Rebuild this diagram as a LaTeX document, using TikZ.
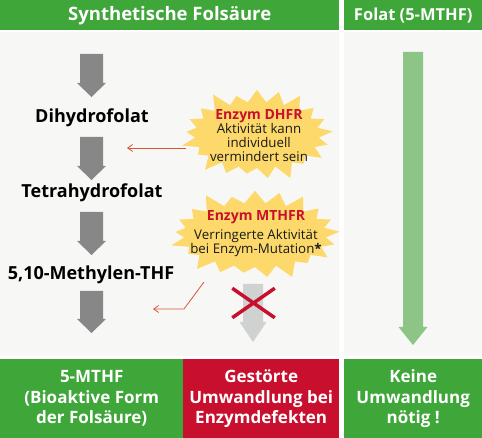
\documentclass[tikz,border=0pt]{standalone}
\usepackage{fontspec}
\setmainfont{Open Sans}
\usepackage{tikz}
\usetikzlibrary{shapes.symbols,shapes.misc,arrows.meta,positioning}

\definecolor{hgreen}{HTML}{3FA63A}
\definecolor{hred}{HTML}{C8102E}
\definecolor{panelbg}{HTML}{F7F8F6}
\definecolor{arrgray}{HTML}{878787}
\definecolor{arrlight}{HTML}{D0D2D2}
\definecolor{arrgreen}{HTML}{8CC585}
\definecolor{staryellow}{HTML}{FCD96A}
\definecolor{linered}{HTML}{D9553A}

% block arrow pointing down: fill, x, top, head start, tip, shaft half, head half
\newcommand{\flowarrow}[7]{%
  \fill[#1] (#2-#6,#3) -- (#2+#6,#3) -- (#2+#6,#4) -- (#2+#7,#4) -- (#2,#5)
    -- (#2-#7,#4) -- (#2-#6,#4) -- cycle;}

\begin{document}
\begin{tikzpicture}[
  x=1pt, y=-1pt,
  every node/.style={font=\fontsize{18}{20.5}\selectfont\bfseries},
  head/.style={fill=hgreen, text=white, inner sep=0pt, anchor=north west,
               minimum height=30pt},
  result/.style={text=white, inner sep=0pt, anchor=north west,
                 minimum height=79pt, align=center,
                 font=\fontsize{17}{20.5}\selectfont\bfseries},
  stage/.style={inner sep=0pt},
  burst/.style={starburst, fill=staryellow, starburst points=21,
                starburst point height=17pt, inner sep=0pt},
  bursttext/.style={inner sep=0pt, align=center, text=black!90,
                    font=\fontsize{13.3}{14}\selectfont},
  redline/.style={draw=linered, line width=0.8pt,
                  -{Straight Barb[length=5pt,width=7pt]}}
]
\useasboundingbox (0,0) rectangle (482,438);

% panels
\fill[panelbg] (0,32) rectangle (339,356);
\fill[panelbg] (344,32) rectangle (482,356);

% headers
\node[head, minimum width=339pt, font=\fontsize{18.5}{20}\selectfont\bfseries]
  (hsyn) at (0,0) {Synthetische Folsäure};
\node[head, minimum width=138pt, font=\fontsize{16.5}{20}\selectfont\bfseries]
  (hfol) at (344,0) {Folat (5-MTHF)};

% synthetic pathway
\flowarrow{arrgray}{91.5}{54}{83}{97}{11.5}{14.5}
\node[stage] (dhf) at (92,118) {Dihydrofolat};
\flowarrow{arrgray}{91.5}{137}{166}{180}{11.5}{14.5}
\node[stage] (thf) at (92,193) {Tetrahydrofolat};
\flowarrow{arrgray}{91.5}{212}{241}{255}{11.5}{14.5}
\node[stage] (mthf) at (91,275) {5,10-Methylen-THF};
\flowarrow{arrgray}{91.5}{291}{319}{333}{11.5}{14.5}

% blocked conversion
\flowarrow{arrlight}{253}{284}{322}{342}{10}{13.5}
\node[cross out, draw=hred, line width=3.5pt, minimum width=39pt,
      minimum height=26pt, inner sep=0pt] (xmark) at (253.5,303) {};

% pointers to the affected steps
\coordinate (dhfrout) at (186,148);
\coordinate (dhfrin) at (127,148);
\coordinate (mthfrout) at (204,282);
\coordinate (mthfrbend) at (184,309);
\coordinate (mthfrin) at (153,309);
\draw[redline] (dhfrout) -- (dhfrin);
\draw[redline] (mthfrout) -- (mthfrbend) -- (mthfrin);

% enzymes
\node[burst, minimum width=158pt, minimum height=100pt] (dhfr) at (257,135) {};
\node[bursttext] (dhfrtext) at (259,136)
  {\textcolor{hred}{\fontsize{14}{14}\selectfont\bfseries Enzym DHFR}\\Aktivität kann\\individuell\\vermindert sein};
\node[burst, minimum width=176pt, minimum height=98pt] (mthfr) at (255,235) {};
\node[bursttext] (mthfrtext) at (256,234)
  {\textcolor{hred}{\fontsize{14}{14}\selectfont\bfseries Enzym MTHFR}\\[5pt]Verringerte Aktivität\\bei Enzym-Mutation{\bfseries *}};

% natural folate
\flowarrow{arrgreen}{413}{52}{327}{345}{10}{14.5}

% results
\node[result, fill=hgreen, minimum width=183pt] (rmthf) at (0,359)
  {5-MTHF\\(Bioaktive Form\\der Folsäure)};
\node[result, fill=hred, minimum width=156pt] (rdef) at (183,359)
  {Gestörte\\Umwandlung bei\\Enzymdefekten};
\node[result, fill=hgreen, minimum width=138pt] (rnone) at (344,359)
  {Keine\\Umwandlung\\nötig !};

\end{tikzpicture}
\end{document}
